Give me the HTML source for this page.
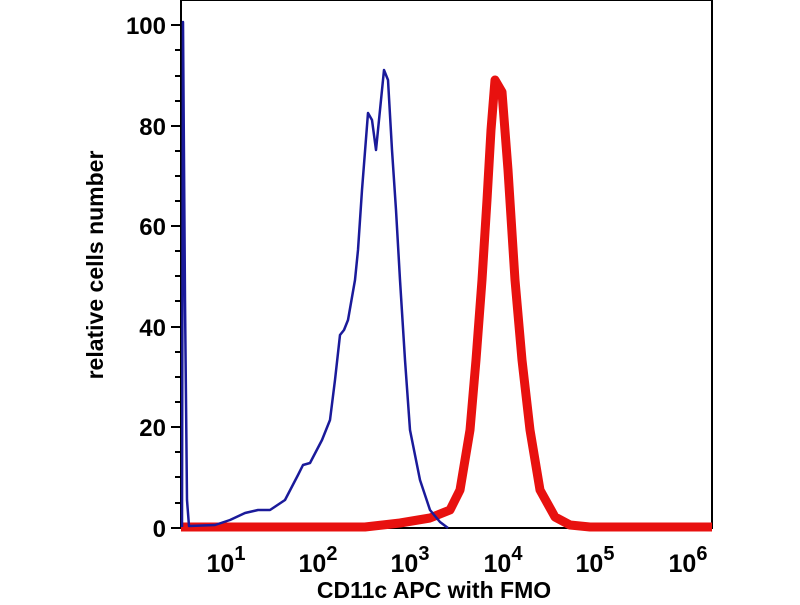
<!DOCTYPE html>
<html><head><style>body{margin:0;background:#fff}</style></head><body>
<svg width="800" height="600" xmlns="http://www.w3.org/2000/svg" font-family="Liberation Sans, sans-serif" font-weight="bold">
<rect width="800" height="600" fill="#fff"/>
<rect x="181" y="0" width="531" height="528" fill="none" stroke="#000" stroke-width="2"/>
<g stroke="#000" stroke-width="2">
<line x1="171" y1="25" x2="181" y2="25"/><line x1="171" y1="126" x2="181" y2="126"/><line x1="171" y1="226" x2="181" y2="226"/><line x1="171" y1="327" x2="181" y2="327"/><line x1="171" y1="427" x2="181" y2="427"/><line x1="171" y1="528" x2="181" y2="528"/>
<line x1="175" y1="50" x2="181" y2="50"/><line x1="175" y1="76" x2="181" y2="76"/><line x1="175" y1="101" x2="181" y2="101"/><line x1="175" y1="151" x2="181" y2="151"/><line x1="175" y1="176" x2="181" y2="176"/><line x1="175" y1="201" x2="181" y2="201"/><line x1="175" y1="251" x2="181" y2="251"/><line x1="175" y1="276" x2="181" y2="276"/><line x1="175" y1="301" x2="181" y2="301"/><line x1="175" y1="352" x2="181" y2="352"/><line x1="175" y1="377" x2="181" y2="377"/><line x1="175" y1="402" x2="181" y2="402"/><line x1="175" y1="452" x2="181" y2="452"/><line x1="175" y1="477" x2="181" y2="477"/><line x1="175" y1="503" x2="181" y2="503"/>
</g>
<g id="xt" stroke="#000" stroke-width="1.5"></g>
<g font-size="24" text-anchor="end" fill="#000">
<text x="166" y="34">100</text><text x="166" y="135">80</text><text x="166" y="235">60</text><text x="166" y="336">40</text><text x="166" y="436">20</text><text x="166" y="537">0</text>
</g>
<g font-size="25" text-anchor="middle" fill="#000">
<text x="226" y="572">10<tspan font-size="20" dy="-12">1</tspan></text>
<text x="318" y="572">10<tspan font-size="20" dy="-12">2</tspan></text>
<text x="410" y="572">10<tspan font-size="20" dy="-12">3</tspan></text>
<text x="503" y="572">10<tspan font-size="20" dy="-12">4</tspan></text>
<text x="595" y="572">10<tspan font-size="20" dy="-12">5</tspan></text>
<text x="688" y="572">10<tspan font-size="20" dy="-12">6</tspan></text>
</g>
<text x="434" y="598" font-size="23" text-anchor="middle">CD11c APC with FMO</text>
<text transform="translate(103,265) rotate(-90)" font-size="23" text-anchor="middle">relative cells number</text>
<polyline fill="none" stroke="#e8110f" stroke-width="9" stroke-linejoin="round" points="181,527 365,527 400,523 430,518 450,510 460,490 470,430 476,360 482,280 487,200 491,130 495,80 502,92 508,170 515,280 522,360 530,430 540,490 555,517 570,525 590,527 712,527"/>
<polyline fill="none" stroke="#1a1a9a" stroke-width="2.5" stroke-linejoin="round" points="182,527 183,22 185,300 187,500 189,526 215,525 230,520 245,513 258,510 270,510 285,500 298,475 303,465 310,463 322,440 330,420 335,380 340,335 344,330 348,320 355,280 358,250 362,190 368,113 372,120 376,150 380,110 384,70 388,80 392,150 396,210 400,280 405,360 410,430 420,480 430,510 440,522 448,528"/>
<script>
var g=document.getElementById('xt'),s='';
for(var d=0;d<6;d++){for(var k=1;k<10;k++){var x=181+(d+Math.log10(k)-0.51)*92.4;if(x<181||x>712)continue;var L=k==1?9:4;s+='<line x1="'+x+'" y1="528" x2="'+x+'" y2="'+(528+L)+'"/>';}}
var x6=181+(6-0.51)*92.4;s+='<line x1="'+x6+'" y1="528" x2="'+x6+'" y2="537"/>';
g.innerHTML=s;
</script>
</svg>
</body></html>
